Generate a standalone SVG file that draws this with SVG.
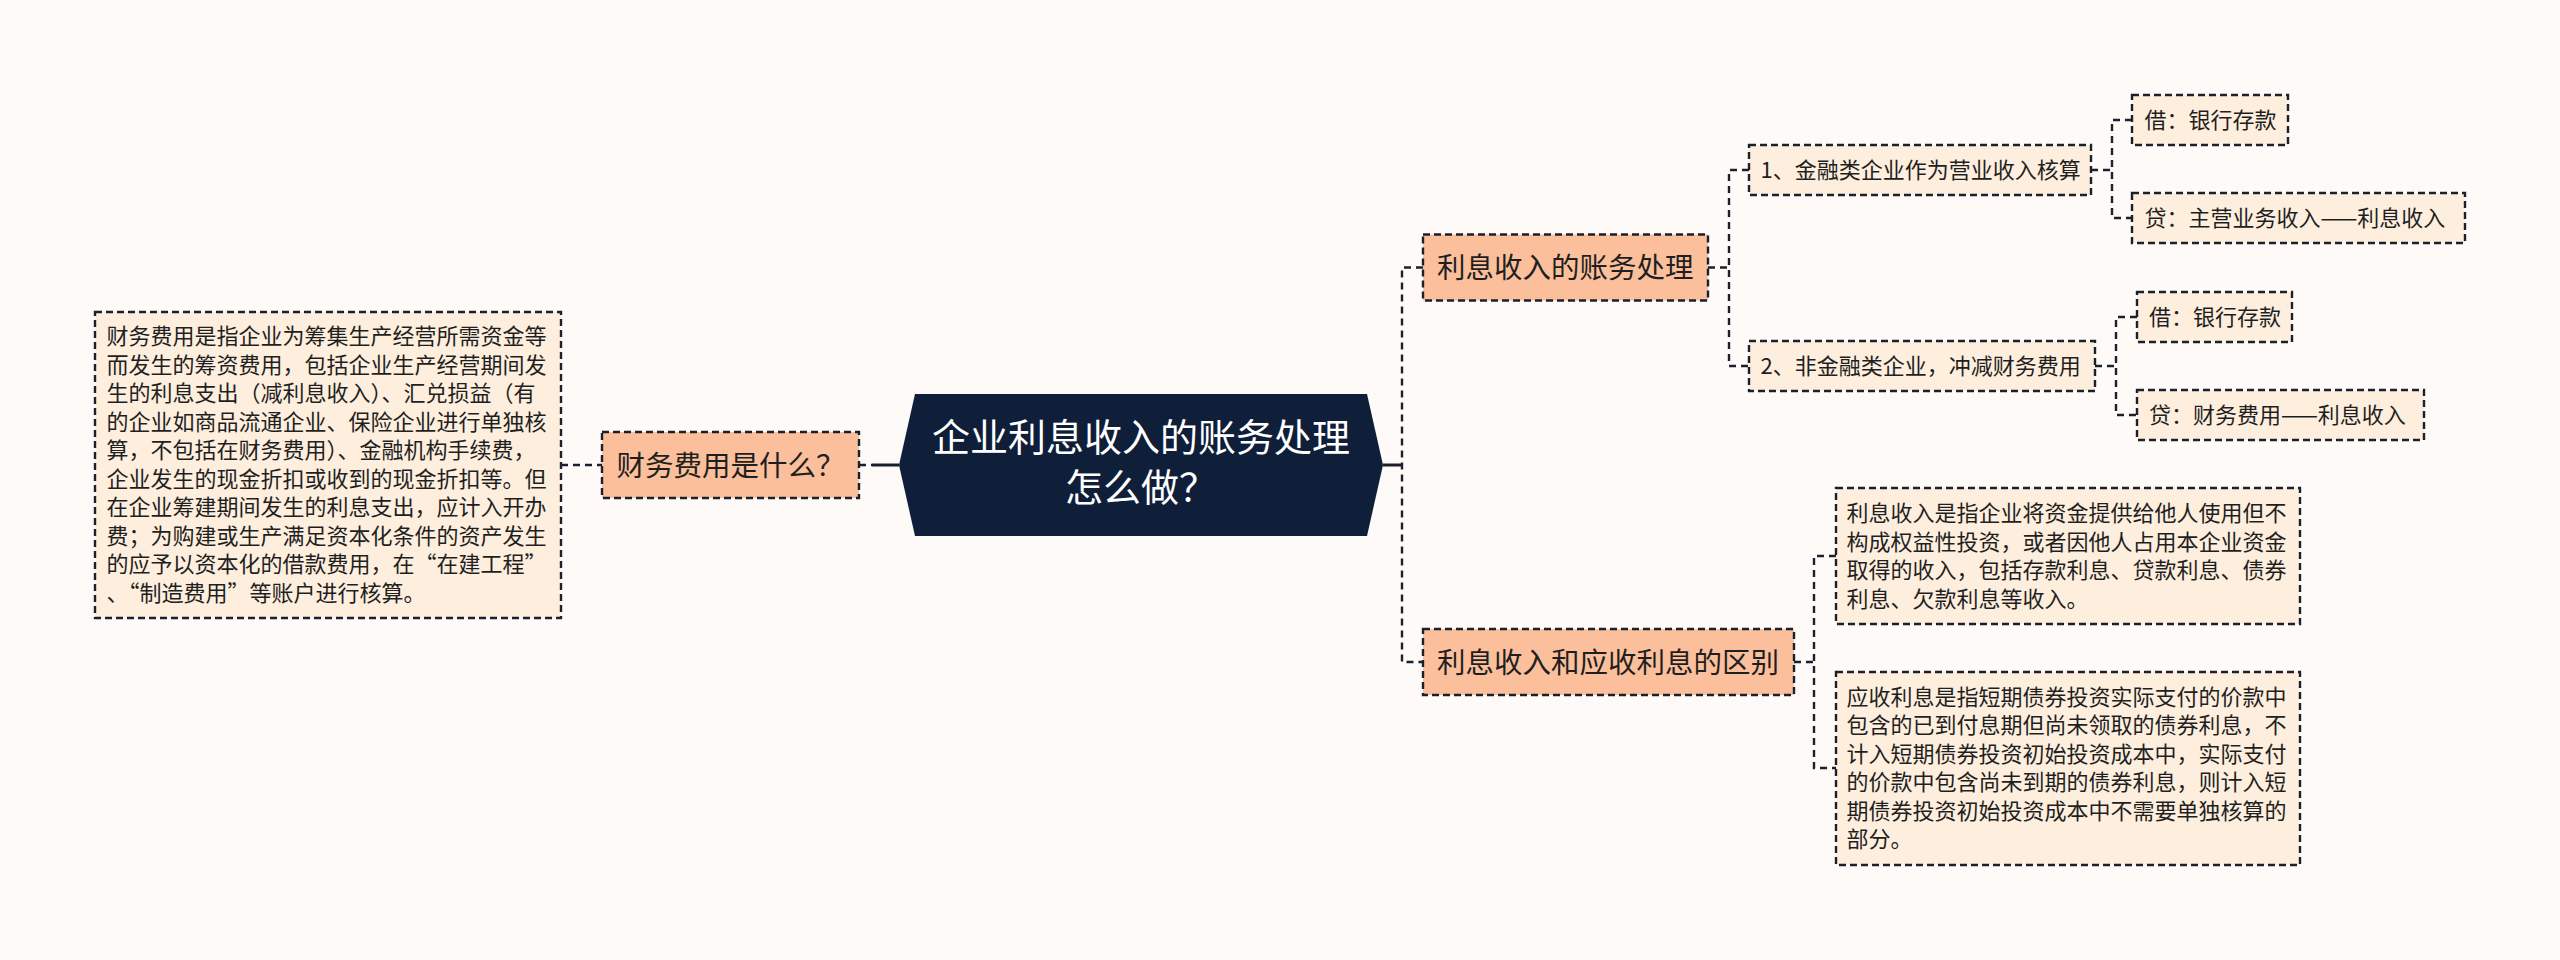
<svg xmlns="http://www.w3.org/2000/svg" width="2560" height="960" viewBox="0 0 2560 960">
<style>
.bg{fill:#fefaf8}
.lv1{fill:#fbbf9c;stroke:#1a202c;stroke-width:2.4;stroke-dasharray:7 4}
.lv2{fill:#fdeedd;stroke:#1a202c;stroke-width:2.4;stroke-dasharray:7 4}
.t{font-family:"Noto Sans CJK SC","Noto Sans",sans-serif;fill:#1f1f1f}
.t1{font-size:28.5px}
.t2{font-size:22px}
.tc{font-family:"Noto Sans CJK SC","Noto Sans",sans-serif;font-size:38px;fill:#ffffff}
.dl{fill:none;stroke:#1a202c;stroke-width:2.4;stroke-dasharray:7 5}
.sl{fill:none;stroke:#1a202c;stroke-width:3}
</style>
<rect class="bg" x="0" y="0" width="2560" height="960"/>
<g id="connectors">
  <path class="dl" d="M561 465 H602"/>
  <path class="dl" d="M859 465 H872"/>
  <path class="sl" d="M872 465 H899"/>
  <path class="sl" d="M1383 465 H1402"/>
  <path class="dl" d="M1423 267.5 H1402 V662 H1423"/>
  <path class="dl" d="M1708 267.5 H1729"/>
  <path class="dl" d="M1749 170 H1729 V366 H1749"/>
  <path class="dl" d="M2091 170 H2112"/>
  <path class="dl" d="M2132 120 H2112 V218 H2132"/>
  <path class="dl" d="M2095 366 H2116"/>
  <path class="dl" d="M2137 317 H2116 V415 H2137"/>
  <path class="dl" d="M1794 662 H1814"/>
  <path class="dl" d="M1836 556 H1814 V768 H1836"/>
</g>
<g id="root">
  <polygon points="899,465 915,394 1367,394 1383,465 1367,536 915,536" fill="#0f1f3a"/>
  <text class="tc" x="1141" y="450.5" text-anchor="middle">企业利息收入的账务处理</text>
  <text class="tc" x="1141" y="500.5" text-anchor="middle">怎么做？</text>
</g>
<g id="n_cw">
  <rect class="lv1" x="602" y="432" width="257" height="66"/>
  <text class="t t1" x="616.5" y="475.5">财务费用是什么？</text>
</g>
<g id="n_cw_desc">
  <rect class="lv2" x="95" y="312" width="466" height="306"/>
  <text class="t t2">
    <tspan x="106.5" y="344">财务费用是指企业为筹集生产经营所需资金等</tspan>
    <tspan x="106.5" y="372.5">而发生的筹资费用，包括企业生产经营期间发</tspan>
    <tspan x="106.5" y="401">生的利息支出（减利息收入）、汇兑损益（有</tspan>
    <tspan x="106.5" y="429.5">的企业如商品流通企业、保险企业进行单独核</tspan>
    <tspan x="106.5" y="458">算，不包括在财务费用）、金融机构手续费，</tspan>
    <tspan x="106.5" y="486.5">企业发生的现金折扣或收到的现金折扣等。但</tspan>
    <tspan x="106.5" y="515">在企业筹建期间发生的利息支出，应计入开办</tspan>
    <tspan x="106.5" y="543.5">费；为购建或生产满足资本化条件的资产发生</tspan>
    <tspan x="106.5" y="572">的应予以资本化的借款费用，在“在建工程”</tspan>
    <tspan x="106.5" y="600.5">、“制造费用”等账户进行核算。</tspan>
  </text>
</g>
<g id="n_l1a">
  <rect class="lv1" x="1423" y="234.5" width="285" height="66"/>
  <text class="t t1" x="1437" y="278">利息收入的账务处理</text>
</g>
<g id="n_a1">
  <rect class="lv2" x="1749" y="145" width="342" height="50"/>
  <text class="t t2" x="1760.5" y="178">1、金融类企业作为营业收入核算</text>
</g>
<g id="n_a1a">
  <rect class="lv2" x="2132" y="95" width="156" height="50"/>
  <text class="t t2" x="2144.5" y="128">借：银行存款</text>
</g>
<g id="n_a1b">
  <rect class="lv2" x="2132" y="193" width="333" height="50"/>
  <text class="t t2" x="2144.5" y="226">贷：主营业务收入——利息收入</text>
</g>
<g id="n_a2">
  <rect class="lv2" x="1749" y="341" width="346" height="50"/>
  <text class="t t2" x="1760.5" y="374">2、非金融类企业，冲减财务费用</text>
</g>
<g id="n_a2a">
  <rect class="lv2" x="2137" y="292" width="155" height="50"/>
  <text class="t t2" x="2149" y="325">借：银行存款</text>
</g>
<g id="n_a2b">
  <rect class="lv2" x="2137" y="390" width="287" height="50"/>
  <text class="t t2" x="2149" y="423">贷：财务费用——利息收入</text>
</g>
<g id="n_l1b">
  <rect class="lv1" x="1423" y="629" width="371" height="66"/>
  <text class="t t1" x="1437" y="672.5">利息收入和应收利息的区别</text>
</g>
<g id="n_b1">
  <rect class="lv2" x="1836" y="488" width="464" height="136"/>
  <text class="t t2">
    <tspan x="1846.5" y="521.3">利息收入是指企业将资金提供给他人使用但不</tspan>
    <tspan x="1846.5" y="549.8">构成权益性投资，或者因他人占用本企业资金</tspan>
    <tspan x="1846.5" y="578.3">取得的收入，包括存款利息、贷款利息、债券</tspan>
    <tspan x="1846.5" y="606.8">利息、欠款利息等收入。</tspan>
  </text>
</g>
<g id="n_b2">
  <rect class="lv2" x="1836" y="672" width="464" height="193"/>
  <text class="t t2">
    <tspan x="1846.5" y="704.7">应收利息是指短期债券投资实际支付的价款中</tspan>
    <tspan x="1846.5" y="733.2">包含的已到付息期但尚未领取的债券利息，不</tspan>
    <tspan x="1846.5" y="761.7">计入短期债券投资初始投资成本中，实际支付</tspan>
    <tspan x="1846.5" y="790.2">的价款中包含尚未到期的债券利息，则计入短</tspan>
    <tspan x="1846.5" y="818.7">期债券投资初始投资成本中不需要单独核算的</tspan>
    <tspan x="1846.5" y="847.2">部分。</tspan>
  </text>
</g>
</svg>
